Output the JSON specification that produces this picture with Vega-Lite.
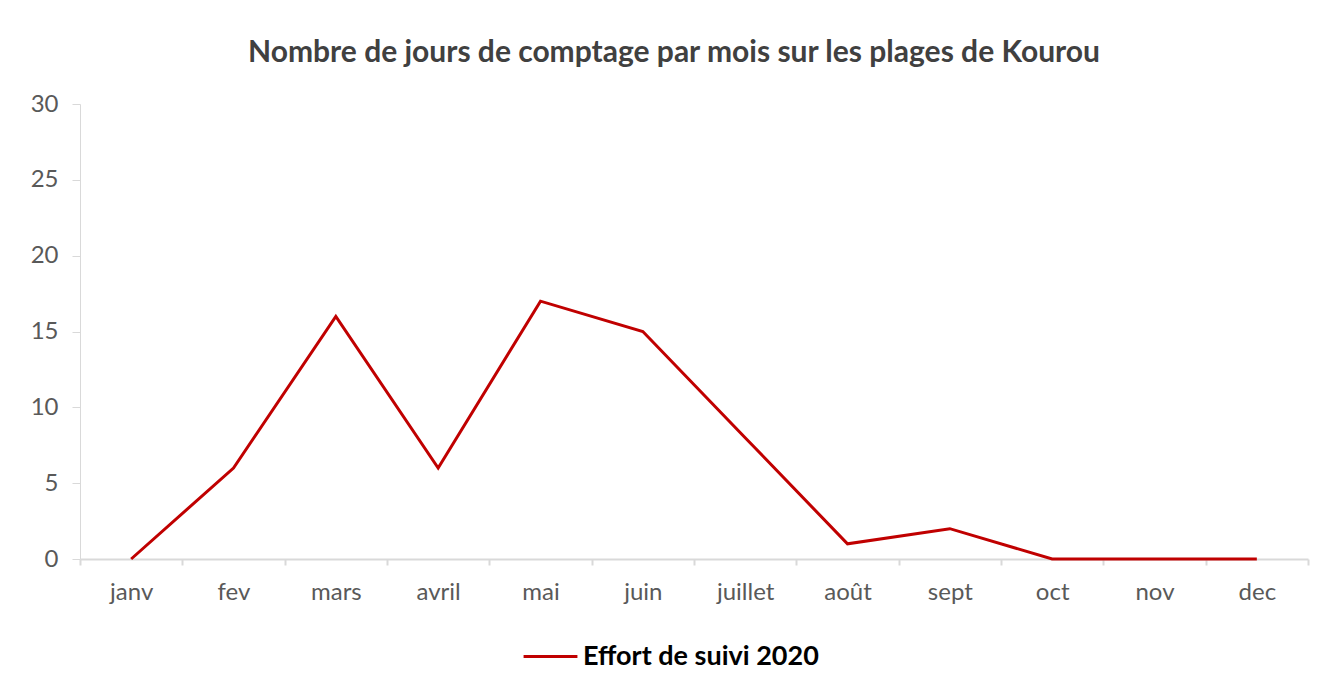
{
  "$schema": "https://vega.github.io/schema/vega-lite/v6.json",
  "width": 1228,
  "height": 455,
  "autosize": {"type": "none"},
  "padding": {"left": 80, "top": 104, "right": 17, "bottom": 127},
  "background": "white",
  "title": {
    "text": "Nombre de jours de comptage par mois sur les plages de Kourou",
    "font": "Lato",
    "fontSize": 30,
    "fontWeight": "bold",
    "color": "#404040",
    "anchor": "middle",
    "dx": -20,
    "offset": 24
  },
  "config": {
    "view": {"stroke": null},
    "font": "Lato"
  },
  "data": {
    "values": [
      {"mois": "janv", "jours": 0, "serie": "Effort de suivi 2020"},
      {"mois": "fev", "jours": 6, "serie": "Effort de suivi 2020"},
      {"mois": "mars", "jours": 16, "serie": "Effort de suivi 2020"},
      {"mois": "avril", "jours": 6, "serie": "Effort de suivi 2020"},
      {"mois": "mai", "jours": 17, "serie": "Effort de suivi 2020"},
      {"mois": "juin", "jours": 15, "serie": "Effort de suivi 2020"},
      {"mois": "juillet", "jours": 8, "serie": "Effort de suivi 2020"},
      {"mois": "août", "jours": 1, "serie": "Effort de suivi 2020"},
      {"mois": "sept", "jours": 2, "serie": "Effort de suivi 2020"},
      {"mois": "oct", "jours": 0, "serie": "Effort de suivi 2020"},
      {"mois": "nov", "jours": 0, "serie": "Effort de suivi 2020"},
      {"mois": "dec", "jours": 0, "serie": "Effort de suivi 2020"}
    ]
  },
  "mark": {"type": "line", "strokeWidth": 3, "strokeJoin": "miter"},
  "encoding": {
    "x": {
      "field": "mois",
      "type": "nominal",
      "sort": null,
      "bandPosition": 0.5,
      "scale": {"type": "band", "paddingInner": 0, "paddingOuter": 0},
      "axis": {
        "title": null,
        "labelAngle": 0,
        "labelFontSize": 24,
        "labelColor": "#595959",
        "labelPadding": 15,
        "tickBand": "extent",
        "tickSize": 6,
        "tickColor": "#d9d9d9",
        "tickWidth": 2,
        "domainColor": "#d9d9d9",
        "domainWidth": 2,
        "grid": false
      }
    },
    "y": {
      "field": "jours",
      "type": "quantitative",
      "scale": {"domain": [0, 30]},
      "axis": {
        "title": null,
        "values": [0, 5, 10, 15, 20, 25, 30],
        "labelFontSize": 24,
        "labelColor": "#595959",
        "labelPadding": 14,
        "tickSize": 8,
        "tickColor": "#d9d9d9",
        "tickWidth": 1,
        "domainColor": "#d9d9d9",
        "domainWidth": 1,
        "grid": false
      }
    },
    "color": {
      "field": "serie",
      "type": "nominal",
      "scale": {"range": ["#C00000"]},
      "legend": {
        "title": null,
        "orient": "none",
        "legendX": 442,
        "legendY": 524,
        "symbolType": "stroke",
        "symbolSize": 2900,
        "symbolStrokeWidth": 3,
        "labelFontSize": 27,
        "labelFontWeight": "bold",
        "labelColor": "#000000",
        "labelOffset": 4,
        "labelLimit": 0
      }
    }
  }
}
